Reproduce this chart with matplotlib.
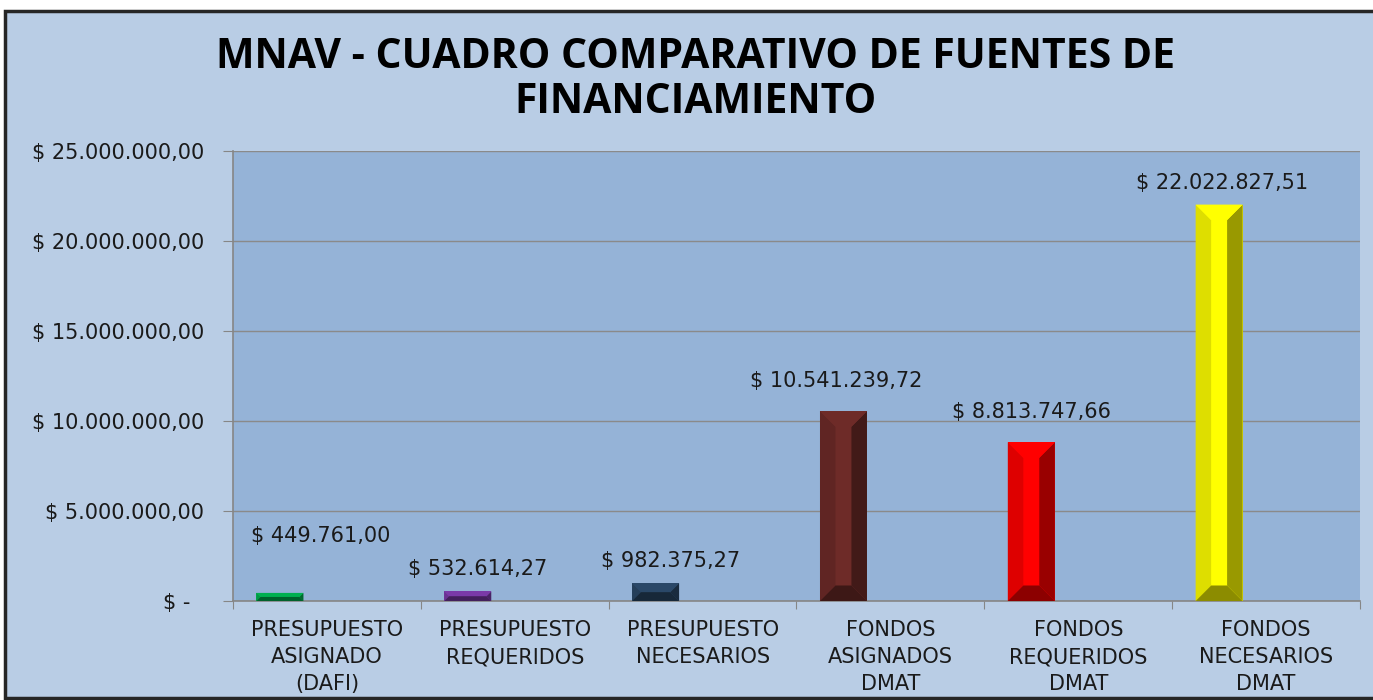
import matplotlib.pyplot as plt
from matplotlib.patches import Polygon, Rectangle
from matplotlib.ticker import FuncFormatter, FixedLocator, NullFormatter
import matplotlib.colors as mcolors

categories = ['PRESUPUESTO\nASIGNADO\n(DAFI)', 'PRESUPUESTO\nREQUERIDOS',
              'PRESUPUESTO\nNECESARIOS', 'FONDOS\nASIGNADOS\nDMAT',
              'FONDOS\nREQUERIDOS\nDMAT', 'FONDOS\nNECESARIOS\nDMAT']
values = [449761.00, 532614.27, 982375.27, 10541239.72, 8813747.66, 22022827.51]
value_labels = ['$ 449.761,00', '$ 532.614,27', '$ 982.375,27',
                '$ 10.541.239,72', '$ 8.813.747,66', '$ 22.022.827,51']
bar_colors = ['#00b050', '#7a3aa8', '#2a4868', '#6e2b28', '#ff0000', '#ffff00']

# label offsets in pixels (dx, dy above bar top)
label_offsets = [(41, 57), (10, 22), (15, 22), (-7, 30), (0, 30), (3, 22)]

plt.rcParams['font.family'] = ['DejaVu Sans']

W, H, DPI = 1373, 700, 100
fig = plt.figure(figsize=(W / DPI, H / DPI), dpi=DPI, facecolor='white')

# chart frame
fig.patches.append(Rectangle((5 / W, 2 / H), 1.1, 1 - 13 / H, transform=fig.transFigure,
                             facecolor='#b9cde5', edgecolor='#262626', linewidth=2.5,
                             zorder=-10))

left, right, top, bottom = 233 / W, 1360 / W, 1 - 151 / H, 1 - 601 / H
ax = fig.add_axes([left, bottom, right - left, top - bottom])
ax.set_zorder(1)
ax.set_facecolor('#95b3d7')

ymax = 25000000
ax.set_ylim(0, ymax)
ax.set_xlim(-0.5, len(values) - 0.5)

xs = [i - 0.25 for i in range(len(values))]
bars = ax.bar(xs, values, width=0.25, color=bar_colors, zorder=3, linewidth=0)


def shade(c, f):
    r, g, b = mcolors.to_rgb(c)
    return (r * f, g * f, b * f)


# bevel effect drawn from each bar's own geometry
ax_h_px = (top - bottom) * H
ax_w_px = (right - left) * W
px_y = ymax / ax_h_px
px_x = len(values) / ax_w_px
for bar, c in zip(bars, bar_colors):
    x0, y0 = bar.get_x(), bar.get_y()
    x1, y1 = x0 + bar.get_width(), y0 + bar.get_height()
    h_px = bar.get_height() / px_y
    d = min(15.5, h_px / 2)
    dx, dy = d * px_x, d * px_y
    faces = [
        ([(x0, y0), (x0, y1), (x0 + dx, y1 - dy), (x0 + dx, y0 + dy)], shade(c, 0.87)),
        ([(x1, y0), (x1, y1), (x1 - dx, y1 - dy), (x1 - dx, y0 + dy)], shade(c, 0.6)),
        ([(x0, y1), (x1, y1), (x1 - dx, y1 - dy), (x0 + dx, y1 - dy)], shade(c, 1.0)),
        ([(x0, y0), (x1, y0), (x1 - dx, y0 + dy), (x0 + dx, y0 + dy)], shade(c, 0.55)),
    ]
    for pts, col in faces:
        ax.add_patch(Polygon(pts, closed=True, facecolor=col, edgecolor='none', zorder=4))

for bar, lab, (ox, oy) in zip(bars, value_labels, label_offsets):
    ax.annotate(lab, (bar.get_x() + bar.get_width() / 2, bar.get_height()),
                xytext=(ox * 0.72, oy * 0.72), textcoords='offset points',
                ha='center', va='center', fontsize=15, color='#1a1a1a', zorder=5)


def money(v, pos):
    if v == 0:
        return '$ -  '
    s = f'{v:,.2f}'.replace(',', 'X').replace('.', ',').replace('X', '.')
    return '$ ' + s


ax.yaxis.set_major_locator(FixedLocator([0, 5e6, 10e6, 15e6, 20e6, 25e6]))
ax.yaxis.set_major_formatter(FuncFormatter(money))
ax.grid(axis='y', color='#8a8a8a', linewidth=1, zorder=1)
ax.set_axisbelow(True)

ax.xaxis.set_major_locator(FixedLocator([i - 0.5 for i in range(len(values) + 1)]))
ax.xaxis.set_major_formatter(NullFormatter())
ax.xaxis.set_minor_locator(FixedLocator(list(range(len(values)))))
ax.set_xticklabels(categories, minor=True)
ax.tick_params(axis='x', which='minor', length=0, pad=14, labelsize=15,
               labelcolor='#1a1a1a')
ax.tick_params(axis='x', which='major', length=6, color='#868686', direction='out')
ax.tick_params(axis='y', length=7, color='#868686', direction='out', pad=14,
               labelsize=15, labelcolor='#1a1a1a')
for lbl in ax.xaxis.get_minorticklabels():
    lbl.set_linespacing(1.42)

for s in ['top', 'right']:
    ax.spines[s].set_visible(False)
for s in ['left', 'bottom']:
    ax.spines[s].set_color('#868686')
    ax.spines[s].set_linewidth(1.2)

fig.text(0.5065, 1 - 80 / H, 'MNAV - CUADRO COMPARATIVO DE FUENTES DE\nFINANCIAMIENTO',
         ha='center', va='center', fontsize=29.5, fontweight='bold', color='black',
         family='Open Sans', linespacing=1.15)

fig.savefig('out.png', dpi=DPI, facecolor='white')
